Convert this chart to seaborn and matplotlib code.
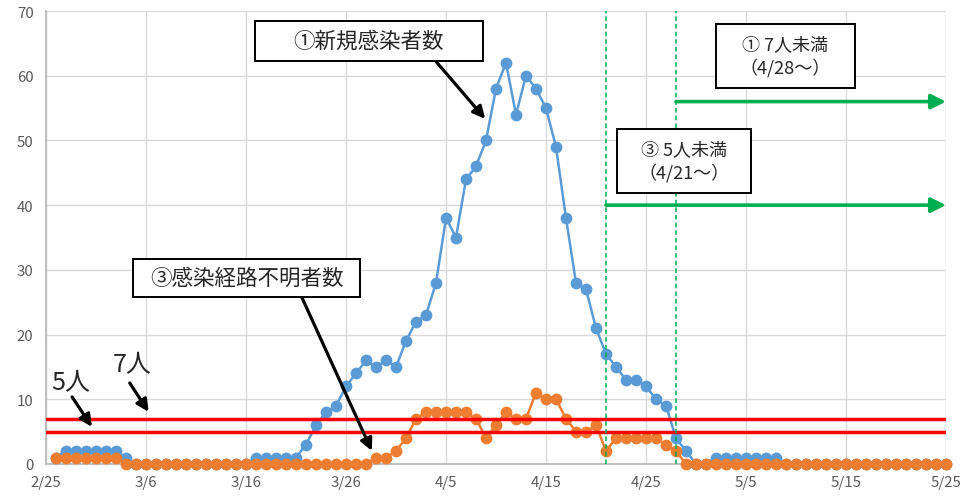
import matplotlib
matplotlib.use('Agg')
import matplotlib.pyplot as plt
import matplotlib.dates as mdates
from matplotlib.patches import Rectangle
import seaborn as sns
import pandas as pd

# daily counts 2/26 - 5/25 (2020)
dates = pd.date_range('2020-02-26', '2020-05-25', freq='D')
new_cases = ([1] + [2] * 6 + [1] + [0] * 12 + [1] * 5 +
             [3, 6, 8, 9, 12, 14, 16, 15, 16, 15, 19, 22, 23, 28, 38, 35, 44, 46, 50, 58,
              62, 54, 60, 58, 55, 49, 38, 28, 27, 21, 17, 15, 13, 13, 12, 10, 9, 4, 2] +
             [0] * 2 + [1] * 7 + [0] * 17)
unknown_route = ([1] * 7 + [0] * 25 +
                 [1, 1, 2, 4, 7, 8, 8, 8, 8, 8, 7, 4, 6, 8, 7, 7, 11, 10, 10, 7,
                  5, 5, 6, 2, 4, 4, 4, 4, 4, 3, 2] +
                 [0] * 27)
tick_dates = pd.date_range('2020-02-25', '2020-05-25', freq='10D')
tick_labels = ['2/25', '3/6', '3/16', '3/26', '4/5', '4/15', '4/25', '5/5', '5/15', '5/25']
thresholds = [7, 5]
stage_dates = [pd.Timestamp('2020-04-21'), pd.Timestamp('2020-04-28')]
stage_levels = [40, 56]

df = pd.DataFrame({'date': dates, 'new': new_cases, 'unknown': unknown_route})

sns.set_style('white')
plt.rcParams['font.family'] = ['Noto Sans CJK JP', 'DejaVu Sans']

fig = plt.figure(figsize=(9.62, 5.02), dpi=100)
ax = fig.add_axes([46 / 962, 1 - 465 / 502, 900 / 962, 453 / 502])

blue = '#5B9BD5'
orange = '#ED7D31'
green = '#00B050'

sns.lineplot(data=df, x='date', y='new', color=blue, marker='o', markersize=8.5,
             markeredgewidth=0, linewidth=1.8, ax=ax, clip_on=False, zorder=3)
sns.lineplot(data=df, x='date', y='unknown', color=orange, marker='o', markersize=8.5,
             markeredgewidth=0, linewidth=1.8, ax=ax, clip_on=False, zorder=4)

# threshold lines
for t in thresholds:
    ax.axhline(t, color='#FF0000', lw=2.5, zorder=5)

# stage start lines and arrows
x_end = mdates.date2num(tick_dates[-1])
for d, lvl in zip(stage_dates, stage_levels):
    xd = mdates.date2num(d)
    ax.axvline(xd, color=green, lw=1.1, dashes=(3, 2), zorder=6)
    ax.annotate('', xy=(x_end, lvl), xytext=(xd, lvl),
                arrowprops=dict(arrowstyle='-|>', color=green, lw=2.6,
                                mutation_scale=22, shrinkA=0, shrinkB=0),
                zorder=6, annotation_clip=False)

ax.set_xlim(tick_dates[0], tick_dates[-1])
ax.set_ylim(0, 70)
ax.set_yticks(range(0, 71, 10))
ax.set_xticks(tick_dates)
ax.set_xticklabels(tick_labels)
ax.grid(True, color='#D9D9D9', lw=1)
ax.set_axisbelow(True)
ax.set_xlabel('')
ax.set_ylabel('')
ax.tick_params(axis='both', length=0, labelsize=10.8, labelcolor='#595959')
ax.tick_params(axis='x', pad=8)
ax.tick_params(axis='y', pad=9)
for s in ['top', 'right']:
    ax.spines[s].set_visible(False)
for s in ['left', 'bottom']:
    ax.spines[s].set_color('#BFBFBF')
    ax.spines[s].set_linewidth(1.5)


def box(x0, y0, w, h, text, size):
    ax.add_patch(Rectangle((x0, y0), w, h, transform=ax.transAxes, facecolor='white',
                           edgecolor='black', lw=1.4, zorder=8, clip_on=False))
    ax.text(x0 + w / 2, y0 + h / 2, text, transform=ax.transAxes, ha='center',
            va='center', fontsize=size, color='#262626', zorder=9, linespacing=1.3)


def arrow(x0, y0, x1, y1):
    ax.annotate('', xy=(x1, y1), xytext=(x0, y0), xycoords='axes fraction',
                textcoords='axes fraction',
                arrowprops=dict(arrowstyle='-|>', color='black', lw=2.3,
                                mutation_scale=18, shrinkA=0, shrinkB=0),
                zorder=7)


box(0.2322, 0.8896, 0.2533, 0.0883, '①新規感染者数', 15.5)
arrow(0.434, 0.887, 0.488, 0.762)
box(0.0967, 0.3687, 0.2522, 0.0839, '③感染経路不明者数', 15.5)
arrow(0.284, 0.369, 0.362, 0.029)
box(0.6344, 0.5982, 0.1489, 0.1413, '③ 5人未満\n（4/21～）', 13)
box(0.7444, 0.830, 0.1544, 0.1413, '① 7人未満\n（4/28～）', 13)

ax.text(0.028, 0.181, '5人', transform=ax.transAxes, ha='center', va='center',
        fontsize=18, color='#262626')
ax.text(0.0956, 0.221, '7人', transform=ax.transAxes, ha='center', va='center',
        fontsize=18, color='#262626')
arrow(0.029, 0.148, 0.051, 0.082)
arrow(0.093, 0.179, 0.114, 0.115)

fig.savefig('out.png', dpi=100)
